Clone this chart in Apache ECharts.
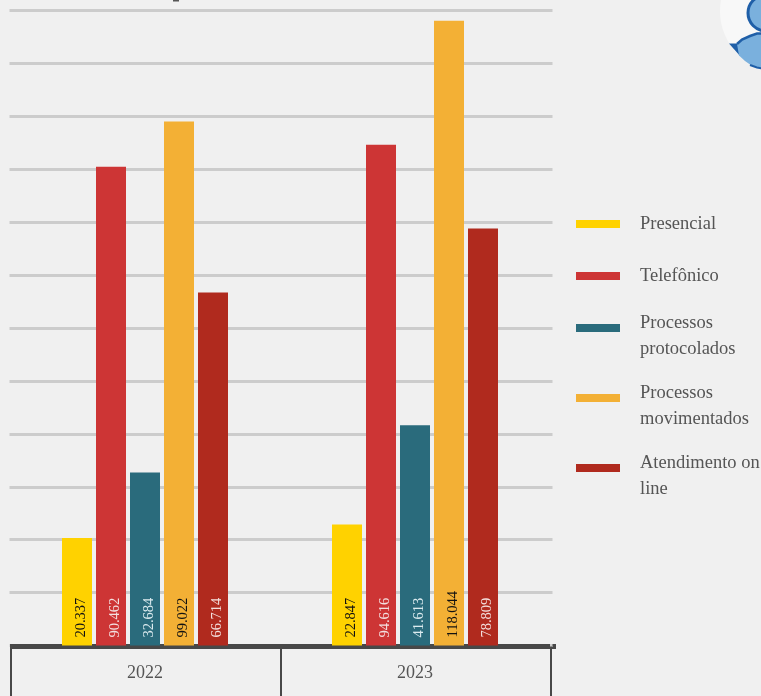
<!DOCTYPE html>
<html><head><meta charset="utf-8">
<style>html,body{margin:0;padding:0;background:#f0f0f0;overflow:hidden}#c{width:761px;height:696px}</style>
<script src="https://cdn.jsdelivr.net/npm/echarts@6/dist/echarts.min.js"></script>
</head><body><div id="c"></div>
<script>
const categories = ['2022','2023'];
const presencial = [20337,22847];
const telefonico = [90462,94616];
const protocolados = [32684,41613];
const movimentados = [99022,118044];
const online = [66714,78809];
const names = ['Presencial','Telefônico','Processos protocolados','Processos movimentados','Atendimento on line'];
const firstLines = ['Presencial','Telefônico','Processos','Processos','Atendimento on'];
const secondLines = ['','','protocolados','movimentados','line'];
const values = [presencial,telefonico,protocolados,movimentados,online];
const colors = ['#ffd200','#cd3535','#2a6b7c','#f3b035','#b02a1e'];
const labelColors = ['#111','#f3e0e0','#dcebef','#111','#f3dedc'];
const legendTops = [214.5,266.5,301.5,371.5,441.5];
const FONT = '"Liberation Serif", serif';
const fmt = v => String(v).replace(/(\d)(?=(\d{3})$)/,'$1.');
const TEXT = {fontFamily:FONT,fontSize:18.5,color:'#555'};
const yBase = {type:'value',min:0,max:120000,interval:10000,
  axisLine:{show:false},axisTick:{show:false},axisLabel:{show:false}};
const AXIS = '#484848';

const chart = echarts.init(document.getElementById('c'),null,{renderer:'canvas'});
chart.setOption({
  animation:false,
  backgroundColor:'#f0f0f0',
  grid:[
    {left:10,right:211,top:10.5,bottom:50.5},
    {left:11,right:210,top:10.5,bottom:50.5}
  ],
  legend:names.map((n,i)=>({
    data:[n],left:576,top:legendTops[i],itemWidth:44,itemHeight:8,orient:'vertical',padding:0,
    icon:'rect',selectedMode:false,
    formatter:()=>secondLines[i]?`{s| }\n{t|${firstLines[i]}}\n{t|${secondLines[i]}}`:firstLines[i],
    textStyle:{...TEXT,padding:[0,0,0,15],
      rich:{t:{...TEXT,lineHeight:26},s:{fontSize:1,lineHeight:17}}}
  })),
  xAxis:[
    {type:'category',gridIndex:0,data:categories,offset:1,
      axisLine:{onZero:false,lineStyle:{color:AXIS,width:5,cap:'butt'}},
      axisTick:{show:false},
      axisLabel:{fontFamily:FONT,fontSize:18,color:'#555',margin:17.5}},
    {type:'category',gridIndex:1,data:categories,offset:1,
      axisLine:{show:false,onZero:false},
      axisTick:{show:true,alignWithLabel:false,length:52,lineStyle:{color:AXIS,width:2}},
      axisLabel:{show:false}}
  ],
  yAxis:[
    {...yBase,gridIndex:0,splitLine:{show:false}},
    {...yBase,gridIndex:1,splitLine:{lineStyle:{color:'#cccccc',width:3,cap:'square'}}}
  ],
  series:names.map((n,i)=>({
    name:n,type:'bar',xAxisIndex:0,yAxisIndex:0,data:values[i],barWidth:30,barGap:'13.33%',z:3,
    itemStyle:{color:colors[i]},
    label:{show:true,position:'insideBottom',rotate:90,align:'left',verticalAlign:'middle',
      distance:8,offset:[0,4],fontFamily:FONT,fontSize:14.5,color:labelColors[i],formatter:p=>fmt(p.value)}
  })),
  graphic:[
    {type:'rect',shape:{x:550,y:644,width:6,height:5},style:{fill:AXIS},silent:true},
    {type:'rect',shape:{x:173,y:0,width:6,height:1.5},style:{fill:'#555'},silent:true},
    {type:'circle',shape:{cx:781,cy:11,r:61},style:{fill:'#f8f8f8'},silent:true},
    {type:'polygon',shape:{points:[[729,43.5],[738,43.5],[740,56]]},style:{fill:'#1f5fa8'},silent:true},
    {type:'polygon',shape:{points:[[737,44],[742,39],[750,36],[757,33],[763,33],[763,69],[750,64.5],[745,61],[739,55.5]]},style:{fill:'#7ab0dd'},silent:true},
    {type:'polyline',shape:{points:[[737,44],[742,39.5],[750,36],[757,33.5],[763,33.5]]},style:{fill:'none',stroke:'#1f5fa8',lineWidth:2.5},silent:true},
    {type:'polyline',shape:{points:[[750,65],[757,67.5],[763,68.5]]},style:{fill:'none',stroke:'#1f5fa8',lineWidth:2},silent:true},
    {type:'circle',shape:{cx:766,cy:13,r:18},style:{fill:'#7ab0dd',stroke:'#1f5fa8',lineWidth:3},silent:true}
  ]
});
</script></body></html>
